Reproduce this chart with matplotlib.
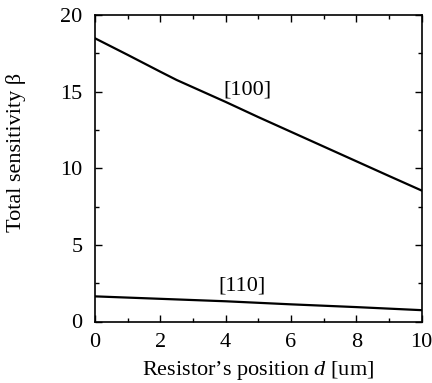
import matplotlib
matplotlib.use("Agg")
import matplotlib.pyplot as plt
from matplotlib.ticker import MultipleLocator

plt.rcParams['font.family'] = ['Liberation Serif', 'DejaVu Serif']
plt.rcParams['mathtext.fontset'] = 'custom'
plt.rcParams['mathtext.it'] = 'Liberation Serif:italic'
plt.rcParams['mathtext.rm'] = 'Liberation Serif'

d_100 = [0, 1, 2, 2.5, 4, 5, 6, 7, 8, 9, 10]
beta_100 = [18.48, 17.4, 16.3, 15.76, 14.33, 13.34, 12.38, 11.42, 10.46, 9.5, 8.55]
d_110 = [0, 2, 4, 6, 8, 10]
beta_110 = [1.64, 1.48, 1.32, 1.12, 0.94, 0.74]

labels = ["[100]", "[110]"]
label_pos = [(4.68, 15.1), (4.49, 2.3)]

fig = plt.figure(figsize=(4.32, 3.83), dpi=100)
ax = fig.add_axes([95/432, 1-321.5/383, 326.5/432, 306.5/383])
ax.plot(d_100, beta_100, color='black', lw=1.6)
ax.plot(d_110, beta_110, color='black', lw=1.6)
for t, (x, y) in zip(labels, label_pos):
    ax.text(x, y, t, ha='center', va='center', fontsize=16)

ax.set_xlim(0, 10)
ax.set_ylim(0, 20)
ax.xaxis.set_major_locator(MultipleLocator(2))
ax.xaxis.set_minor_locator(MultipleLocator(1))
ax.yaxis.set_major_locator(MultipleLocator(5))
ax.yaxis.set_minor_locator(MultipleLocator(2.5))
ax.tick_params(which='both', direction='in', top=True, right=True, labelsize=16, width=1)
ax.tick_params(which='major', length=5)
ax.tick_params(axis='x', which='major', pad=8)
ax.tick_params(axis='y', which='major', pad=9)
ax.tick_params(which='minor', length=3)
for s in ax.spines.values():
    s.set_linewidth(1.2)
ax.set_xlabel("Resistor’s position $d$ [um]", fontsize=16, labelpad=5)
ax.set_ylabel("Total sensitivity β", fontsize=16)
ax.yaxis.set_label_coords(-0.211, 0.55)
fig.savefig("out.png", dpi=100)
